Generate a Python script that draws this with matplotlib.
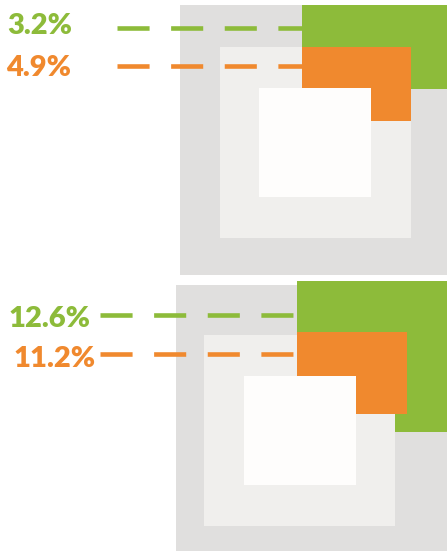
import matplotlib.pyplot as plt
from matplotlib.patches import Rectangle

# two panels, each: three nested background squares + green/orange blocks
# boxes are (left, top, right, bottom) in pixels of the 447x551 image
labels_green = ["3.2%", "12.6%"]
labels_orange = ["4.9%", "11.2%"]

outer_box = [(180, 5, 447, 275), (176, 285, 447, 551)]
middle_box = [(220, 47, 411, 238), (204, 335, 395, 526)]
inner_box = [(259, 88, 371, 197), (244, 376, 356, 485)]
green_box = [(302, 5, 447, 89), (297, 281, 447, 432)]
orange_box = [(302, 47, 411, 121), (297, 332, 407, 414)]

green_line_y = [28, 315]
orange_line_y = [66, 354]
line_start = [117, 100]
# text anchors: (right edge, baseline)
green_text = [(72, 34), (90, 327)]
orange_text = [(71, 76), (96, 367)]

GREEN = "#8DBB3A"
ORANGE = "#F0892E"

fig = plt.figure(figsize=(4.47, 5.51), dpi=100)
ax = fig.add_axes([0, 0, 1, 1])
ax.set_xlim(0, 447)
ax.set_ylim(551, 0)
ax.axis("off")


def box(b, color, z):
    l, t, r, btm = b
    ax.add_patch(Rectangle((l, t), r - l, btm - t, facecolor=color,
                           edgecolor="none", zorder=z))


for i in range(2):
    box(outer_box[i], "#E0DFDE", 1)
    box(green_box[i], GREEN, 2)
    box(middle_box[i], "#F0EFED", 3)
    box(orange_box[i], ORANGE, 4)
    box(inner_box[i], "#FEFDFC", 5)

    for y, c in [(green_line_y[i], GREEN), (orange_line_y[i], ORANGE)]:
        ax.plot([line_start[i], green_box[i][0]], [y, y], color=c, lw=3.3,
                dashes=[7.0, 4.7], solid_capstyle="butt",
                dash_capstyle="butt", zorder=3.5)

    for (x, y), s, c in [(green_text[i], labels_green[i], GREEN),
                         (orange_text[i], labels_orange[i], ORANGE)]:
        ax.text(x, y, s, color=c, fontsize=21, fontweight="heavy",
                family="Lato", ha="right", va="baseline")

fig.savefig("out.png", dpi=100)
